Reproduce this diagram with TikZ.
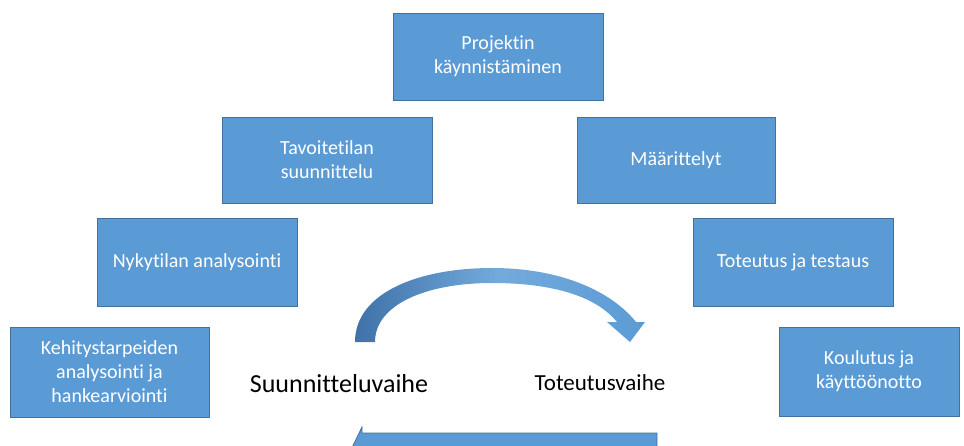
\documentclass[tikz,border=0pt]{standalone}
\usepackage{fontspec}
\setmainfont[Ligatures=NoCommon]{Carlito}
\definecolor{boxblue}{HTML}{5B9BD5}
\definecolor{boxedge}{HTML}{41719C}
\definecolor{arrowdark}{HTML}{3F72A8}
\tikzset{
  stagebox/.style={draw=boxedge, line width=0.8pt, fill=boxblue, text=white,
    align=center, font=\fontsize{20}{24}\selectfont, inner sep=0pt},
  phase/.style={text=black, inner sep=0pt}
}
\newcommand{\stage}[6]{%
  \node[stagebox, minimum width=#4-#2, minimum height=#5-#3] (#1)
    at ({(#2+#4)/2},{(#3+#5)/2}) {#6};}
\begin{document}
\begin{tikzpicture}[x=1pt,y=-1pt]
  \useasboundingbox (0,0) rectangle (964,445);
  \clip (0,0) rectangle (964,445);

  % process stages
  \stage{start}{393}{13}{603}{100}{Projektin\\käynnistäminen}
  \stage{goal}{222}{117}{432}{203}{Tavoitetilan\\suunnittelu}
  \stage{spec}{577}{117}{775}{203}{Määrittelyt}
  \stage{current}{97}{218}{297}{306}{Nykytilan analysointi}
  \stage{impl}{693}{218}{893}{306}{Toteutus ja testaus}
  \stage{needs}{10}{327}{209}{417}{Kehitystarpeiden\\analysointi ja\\hankearviointi}
  \stage{deploy}{779}{327}{959}{416}{Koulutus ja\\käyttöönotto}

  % phase labels
  \node[phase, font=\fontsize{26}{30}\selectfont] (plan) at (339,384) {Suunnitteluvaihe};
  \node[phase, font=\fontsize{23}{27}\selectfont] (exec) at (600,383) {Toteutusvaihe};

  % curved arrow from planning to execution
  \shade[left color=arrowdark, right color=boxblue, middle color=boxblue!85!white]
    (355,342) .. controls (355,292) and (420,268) .. (492,268)
    .. controls (562,268) and (612,292) .. (636,322)
    -- (645,322) -- (630,342) -- (607,322) -- (617,322)
    .. controls (596,296) and (552,283) .. (492,283)
    .. controls (425,283) and (375,305) .. (375,342) -- cycle;

  % straight return arrow along the bottom
  \filldraw[fill=boxblue, draw=boxedge, line width=0.8pt]
    (657,433) -- (362,433) -- (362,427) -- (348,456) -- (362,485)
    -- (362,479) -- (657,479) -- cycle;
\end{tikzpicture}
\end{document}
